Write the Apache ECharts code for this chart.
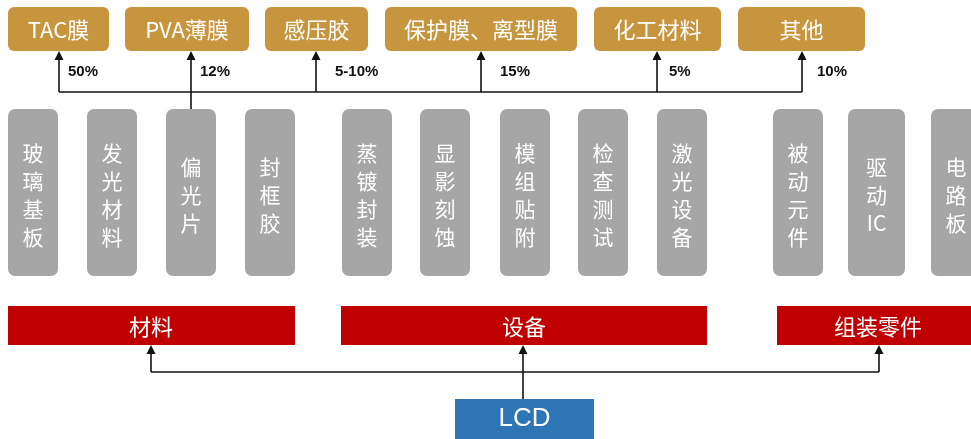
<!DOCTYPE html>
<html><head><meta charset="utf-8">
<script src="https://cdn.jsdelivr.net/npm/echarts@6/dist/echarts.min.js"></script>
<style>html,body{margin:0;padding:0;background:#fff}#c{width:971px;height:439px}</style>
</head><body><div id="c"></div>
<script>
// ---- content ----
const topLabels = ['TAC膜','PVA薄膜','感压胶','保护膜、离型膜','化工材料','其他'];
const topShares = ['50%','12%','5-10%','15%','5%','10%'];
const partLabels = ['玻璃基板','发光材料','偏光片','封框胶','蒸镀封装','显影刻蚀','模组贴附','检查测试','激光设备','被动元件','驱动IC','电路板'];
const groupLabels = ['材料','设备','组装零件'];
const rootLabel = 'LCD';

// ---- layout (diagram geometry, in canvas units) ----
const W = 971, H = 439;
const topBoxX = [[8,109],[125,249],[265,368],[385,577],[594,721],[738,865]];
const topBoxY = [7,51];
const topArrowX = [59,191,316,481,657,802];
const shareX = [68,200,335,500,669,817];
const shareY = 72;
const busTopY = 92;
const partX = [[8,58],[87,137],[166,216],[245,295],[342,392],[420,470],[500,550],[578,628],[657,707],[773,823],[848,905],[931,985]];
const partY = [109,276];
const groupX = [[8,295],[341,707],[777,985]];
const groupY = [306,345];
const groupTextX = [151,524,878];
const groupArrowX = [151,879];
const busBotY = 372;
const rootX = [455,594], rootY = [399,445];
const rootArrowX = 523;

const C_TOP = '#C8953F', C_PART = '#A6A6A6', C_GROUP = '#C00000', C_ROOT = '#2E75B6', C_LINE = '#111';
const CJK = '"Noto Sans CJK SC","Noto Sans",sans-serif';

function rectOf(api, x0, y0, x1, y1) {
  const a = api.coord([x0, y0]), b = api.coord([x1, y1]);
  return { x: a[0], y: a[1], width: b[0] - a[0], height: b[1] - a[1] };
}
function pt(api, x, y) { return api.coord([x, y]); }
function arrowUp(api, x, yTip) {
  const t = pt(api, x, yTip), l = pt(api, x - 4.5, yTip + 9), r = pt(api, x + 4.5, yTip + 9);
  return { type: 'polygon', shape: { points: [t, l, r] }, style: { fill: C_LINE } };
}
function vline(api, x, y0, y1) {
  return { type: 'polyline', shape: { points: [pt(api, x, y0), pt(api, x, y1)] }, style: { stroke: C_LINE, lineWidth: 1.6, fill: null } };
}
function splitVertical(s) { return s.match(/[A-Za-z0-9]+|./g).join('\n'); }

const chart = echarts.init(document.getElementById('c'), null, { renderer: 'canvas' });
chart.setOption({
  animation: false,
  grid: { left: 0, right: 0, top: 0, bottom: 0 },
  xAxis: { type: 'value', min: 0, max: W, show: false },
  yAxis: { type: 'value', min: 0, max: H, inverse: true, show: false },
  series: [
    { // top boxes
      type: 'custom', clip: false, data: topLabels.map((_, i) => [i, 0]),
      renderItem(params, api) {
        const i = params.dataIndex, [x0, x1] = topBoxX[i];
        const s = rectOf(api, x0, topBoxY[0], x1, topBoxY[1]);
        return { type: 'group', children: [
          { type: 'rect', shape: Object.assign({ r: 6 }, s), style: { fill: C_TOP } },
          { type: 'text', x: s.x + s.width / 2, y: s.y + s.height / 2 + 1,
            style: { text: topLabels[i], align: 'center', verticalAlign: 'middle', fill: '#fff', font: '22px ' + CJK } }
        ]};
      }
    },
    { // top arrows + shares
      type: 'custom', clip: false, data: topShares.map((_, i) => [i, 0]),
      renderItem(params, api) {
        const i = params.dataIndex, x = topArrowX[i];
        const p = pt(api, shareX[i], shareY);
        return { type: 'group', children: [
          vline(api, x, busTopY, topBoxY[1] + 8),
          arrowUp(api, x, topBoxY[1]),
          { type: 'text', x: p[0], y: p[1],
            style: { text: topShares[i], align: 'left', verticalAlign: 'middle', fill: '#111', font: 'bold 15px "Liberation Sans",Arial,sans-serif' } }
        ]};
      }
    },
    { // top bus
      type: 'custom', clip: false, data: [[0, 0]],
      renderItem(params, api) {
        return { type: 'group', children: [
          { type: 'polyline', shape: { points: [pt(api, topArrowX[0], busTopY), pt(api, topArrowX[topArrowX.length - 1], busTopY)] }, style: { stroke: C_LINE, lineWidth: 1.6, fill: null } },
          vline(api, topArrowX[1], busTopY, partY[0])
        ]};
      }
    },
    { // part boxes
      type: 'custom', clip: false, data: partLabels.map((_, i) => [i, 0]),
      renderItem(params, api) {
        const i = params.dataIndex, [x0, x1] = partX[i];
        const s = rectOf(api, x0, partY[0], x1, partY[1]);
        const c = pt(api, (x0 + x1) / 2, 195);
        return { type: 'group', children: [
          { type: 'rect', shape: Object.assign({ r: 7 }, s), style: { fill: C_PART } },
          { type: 'text', x: i === partLabels.length - 1 ? pt(api, 956, 0)[0] : c[0], y: c[1],
            style: { text: splitVertical(partLabels[i]), align: 'center', verticalAlign: 'middle', lineHeight: 28, fill: '#fff', font: '21px ' + CJK } }
        ]};
      }
    },
    { // group bars
      type: 'custom', clip: false, data: groupLabels.map((_, i) => [i, 0]),
      renderItem(params, api) {
        const i = params.dataIndex, [x0, x1] = groupX[i];
        const s = rectOf(api, x0, groupY[0], x1, groupY[1]);
        const c = pt(api, groupTextX[i], (groupY[0] + groupY[1]) / 2);
        return { type: 'group', children: [
          { type: 'rect', shape: s, style: { fill: C_GROUP } },
          { type: 'text', x: c[0], y: c[1] + 1,
            style: { text: groupLabels[i], align: 'center', verticalAlign: 'middle', fill: '#fff', font: '22px ' + CJK } }
        ]};
      }
    },
    { // bottom bus and arrows
      type: 'custom', clip: false, data: [[0, 0]],
      renderItem(params, api) {
        const ch = [
          { type: 'polyline', shape: { points: [pt(api, groupArrowX[0], busBotY), pt(api, groupArrowX[1], busBotY)] }, style: { stroke: C_LINE, lineWidth: 1.6, fill: null } }
        ];
        groupArrowX.forEach(x => { ch.push(vline(api, x, busBotY, groupY[1] + 8)); ch.push(arrowUp(api, x, groupY[1])); });
        ch.push(vline(api, rootArrowX, rootY[0], groupY[1] + 8));
        ch.push(arrowUp(api, rootArrowX, groupY[1]));
        return { type: 'group', children: ch };
      }
    },
    { // root box
      type: 'custom', clip: false, data: [[0, 0]],
      renderItem(params, api) {
        const s = rectOf(api, rootX[0], rootY[0], rootX[1], rootY[1]);
        const c = pt(api, (rootX[0] + rootX[1]) / 2, 419);
        return { type: 'group', children: [
          { type: 'rect', shape: s, style: { fill: C_ROOT } },
          { type: 'text', x: c[0], y: c[1],
            style: { text: rootLabel, align: 'center', verticalAlign: 'middle', fill: '#fff', font: '26px "Liberation Sans",Arial,sans-serif' } }
        ]};
      }
    }
  ]
});
</script></body></html>
